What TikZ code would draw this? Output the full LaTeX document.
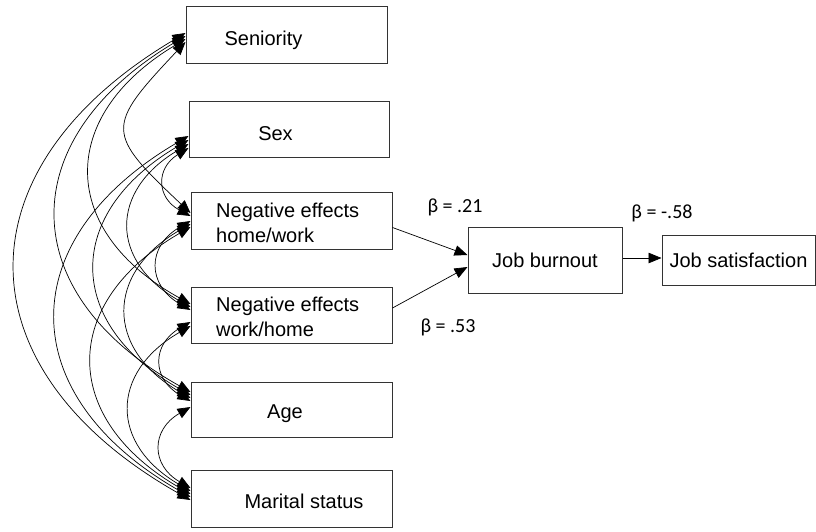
\documentclass[tikz,border=0pt]{standalone}
\usepackage{fontspec}
\setmainfont{Liberation Sans}
\newfontfamily\coeffont{Carlito}
\usetikzlibrary{arrows.meta}

\begin{document}
\begin{tikzpicture}[x=1pt, y=-1pt, font=\fontsize{20}{25}\selectfont,
  varbox/.style={draw=black!80, line width=1pt, minimum width=201pt, minimum height=57pt, inner sep=0pt},
  lbl/.style={inner sep=0pt, align=left},
  cov/.style={{Triangle[length=13pt,width=10.5pt]}-{Triangle[length=13pt,width=10.5pt]}, line width=0.7pt, bend right=60, looseness=1.45},
  reg/.style={-{Triangle[length=13pt,width=10.5pt]}, line width=0.7pt},
  coef/.style={font=\coeffont\fontsize{20}{24}\selectfont, inner sep=0pt}]
  \useasboundingbox (0,0) rectangle (816,531);
  % exogenous variables
  \node[varbox] (sen) at (286.5,34.5) {};
  \node[lbl, anchor=base] (sent) at (263.5,45) {Seniority};
  \node[varbox, minimum width=200pt, minimum height=56pt] (sex) at (289,129) {};
  \node[lbl, anchor=base] (sext) at (275.5,140) {Sex};
  \node[varbox] (hw) at (291.5,220.5) {};
  \node[lbl, anchor=north west] (hwt) at (216,202.5) {Negative effects\\home/work};
  \node[varbox, minimum height=56pt] (wh) at (291.5,315) {};
  \node[lbl, anchor=north west] (wht) at (216,297) {Negative effects\\work/home};
  \node[varbox, minimum height=55pt] (age) at (291.5,409.5) {};
  \node[lbl, anchor=base] (aget) at (285,418) {Age};
  \node[varbox] (mar) at (291.5,498.5) {};
  \node[lbl, anchor=base] (mart) at (304,508) {Marital status};
  % outcomes
  \node[varbox, minimum width=154pt, minimum height=66pt] (burn) at (545,260) {Job burnout};
  \node[varbox, minimum width=153pt, minimum height=50pt] (sat) at (738.5,260) {Job satisfaction};
  % correlations
  \draw[cov, bend right=45, looseness=1.75] ([yshift=-7.5pt]sen.west) to ([yshift=7.5pt]hw.west);
  \draw[cov] ([yshift=-4.5pt]sen.west) to ([yshift=11pt]wh.west);
  \draw[cov] ([yshift=-1.5pt]sen.west) to ([yshift=17.5pt]age.west);
  \draw[cov] ([yshift=1.5pt]sen.west) to ([yshift=-1.5pt]mar.west);
  \draw[cov] ([yshift=-19pt]sex.west) to ([yshift=4.5pt]hw.west);
  \draw[cov] ([yshift=-15pt]sex.west) to ([yshift=8pt]wh.west);
  \draw[cov] ([yshift=-11pt]sex.west) to ([yshift=14.5pt]age.west);
  \draw[cov] ([yshift=-7pt]sex.west) to ([yshift=1.5pt]mar.west);
  \draw[cov] ([yshift=-0.5pt]hw.west) to ([yshift=5pt]wh.west);
  \draw[cov] ([yshift=-3.5pt]hw.west) to ([yshift=11.5pt]age.west);
  \draw[cov] ([yshift=-6.5pt]hw.west) to ([yshift=4.5pt]mar.west);
  \draw[cov] ([yshift=-7pt]wh.west) to ([yshift=8.5pt]age.west);
  \draw[cov] ([yshift=-11pt]wh.west) to ([yshift=7.5pt]mar.west);
  \draw[cov] ([yshift=2.5pt]age.west) to ([yshift=10.5pt]mar.west);
  % paths
  \draw[reg] ([yshift=-7pt]hw.east) -- ([yshift=5pt]burn.west);
  \draw[reg] ([yshift=7pt]wh.east) -- ([yshift=-7pt]burn.west);
  \draw[reg] ([yshift=2pt]burn.east) -- ([yshift=2pt]sat.west);
  \node[coef] (b1) at (455,207) {β = .21};
  \node[coef] (b2) at (448,327) {β = .53};
  \node[coef] (b3) at (662,213) {β = -.58};
\end{tikzpicture}
\end{document}
